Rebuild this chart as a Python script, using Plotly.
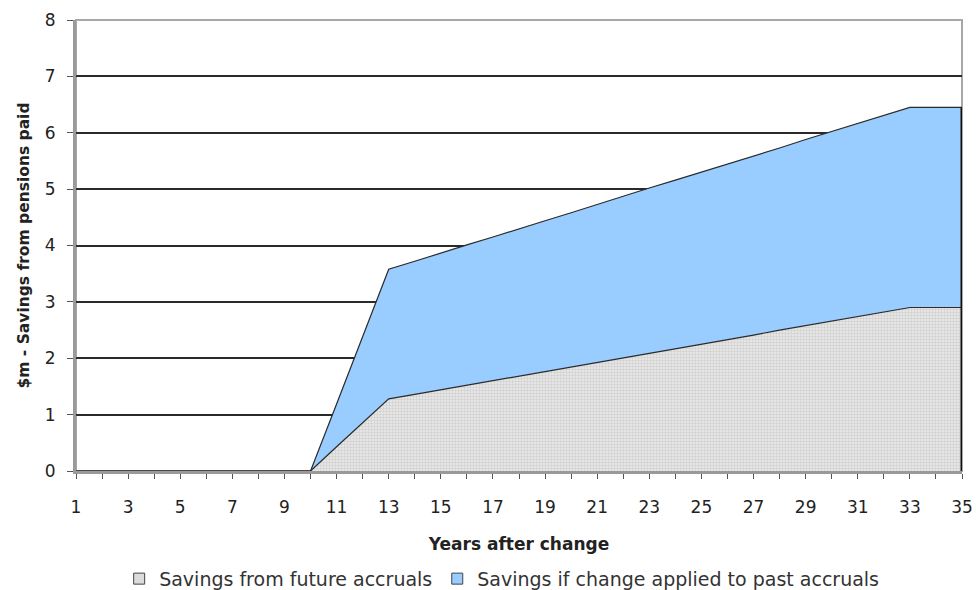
import plotly.graph_objects as go

# Years after the change (category per year)
years = list(range(1, 36))

# $m savings from future accruals (bottom band)
future_accruals = [0, 0, 0, 0, 0, 0, 0, 0, 0, 0,
                   0.43, 0.85, 1.28, 1.36, 1.44, 1.52, 1.60, 1.68, 1.77, 1.85,
                   1.93, 2.01, 2.09, 2.17, 2.25, 2.33, 2.41, 2.50, 2.58, 2.66,
                   2.74, 2.82, 2.90, 2.90, 2.90]

# $m extra savings if the change were also applied to past accruals (stacked on top)
past_accruals = [0, 0, 0, 0, 0, 0, 0, 0, 0, 0,
                 0.76, 1.54, 2.30, 2.36, 2.43, 2.49, 2.55, 2.62, 2.67, 2.73,
                 2.80, 2.86, 2.93, 2.99, 3.05, 3.12, 3.18, 3.23, 3.30, 3.36,
                 3.42, 3.49, 3.55, 3.55, 3.55]

x_ticks = [y for y in years if y % 2 == 1]
y_ticks = list(range(0, 9))

series_names = ["Savings from future accruals",
                "Savings if change applied to past accruals"]

GREY_BG = "#ececec"
GREY_FG = "#b4b4b4"
BLUE = "#99ccff"
EDGE = "#2a2a2a"
FONT = "DejaVu Sans"

fig = go.Figure()

fig.add_trace(go.Scatter(
    x=years, y=future_accruals, name=series_names[0],
    stackgroup="s", mode="lines",
    line=dict(color=EDGE, width=1.2),
    fillcolor=GREY_BG,
    fillpattern=dict(shape=".", fgcolor=GREY_FG, bgcolor=GREY_BG,
                     size=3, solidity=0.5),
    showlegend=False, hoverinfo="skip",
))
fig.add_trace(go.Scatter(
    x=years, y=past_accruals, name=series_names[1],
    stackgroup="s", mode="lines",
    line=dict(color=EDGE, width=1.2),
    fillcolor=BLUE,
    showlegend=False, hoverinfo="skip",
))

# square legend keys
for name, col in zip(series_names, ["#dcdcdc", BLUE]):
    fig.add_trace(go.Scatter(
        x=[None], y=[None], name=name, mode="markers",
        marker=dict(symbol="square", size=11, color=col,
                    line=dict(color="#444444", width=1)),
    ))

total_last = future_accruals[-1] + past_accruals[-1]

fig.update_layout(
    width=976, height=590,
    margin=dict(l=76, r=14, t=20, b=119),
    paper_bgcolor="white", plot_bgcolor="white",
    font=dict(family=FONT, size=17, color="#222222"),
    showlegend=True,
    legend=dict(orientation="h", xref="container", yref="container",
                x=0.514, xanchor="center", y=0.019, yanchor="middle",
                traceorder="normal",
                font=dict(family=FONT, size=19, color="#333333"),
                itemwidth=30, tracegroupgap=0,
                bgcolor="rgba(0,0,0,0)"),
    xaxis=dict(
        range=[1, 35], tickmode="array", tickvals=x_ticks,
        ticks="outside", ticklen=5, tickcolor="#555555", tickwidth=1,
        ticklabelstandoff=14,
        minor=dict(dtick=1, tick0=1, ticks="outside", ticklen=5,
                   tickcolor="#555555", showgrid=False),
        showgrid=False, zeroline=False,
        showline=True, linecolor="#9a9a9a", linewidth=3,
        title=dict(text="Years after change", standoff=22,
                   font=dict(family=FONT, size=17, color="#222222",
                             weight="bold")),
        automargin=False,
    ),
    yaxis=dict(
        range=[0, 8], tickmode="array", tickvals=y_ticks,
        ticks="outside", ticklen=6, tickcolor="#555555",
        ticklabelstandoff=8,
        showgrid=True, gridcolor="#2a2a2a", gridwidth=1.8,
        zeroline=False,
        showline=True, linecolor="#9a9a9a", linewidth=3,
        title=dict(text="$m - Savings from pensions paid", standoff=12,
                   font=dict(family=FONT, size=15.5, color="#222222",
                             weight="bold")),
        automargin=False,
    ),
    shapes=[
        # light plot frame (sits under the areas)
        dict(type="rect", xref="x domain", yref="y domain",
             x0=0, x1=1, y0=0, y1=1, layer="below",
             line=dict(color="#a8a8a8", width=2)),
        # closing edge of the stacked area at the last year
        dict(type="line", xref="x", yref="y",
             x0=years[-1], x1=years[-1], y0=0, y1=total_last,
             line=dict(color="#111111", width=3)),
    ],
)

fig.write_html("out.html")
